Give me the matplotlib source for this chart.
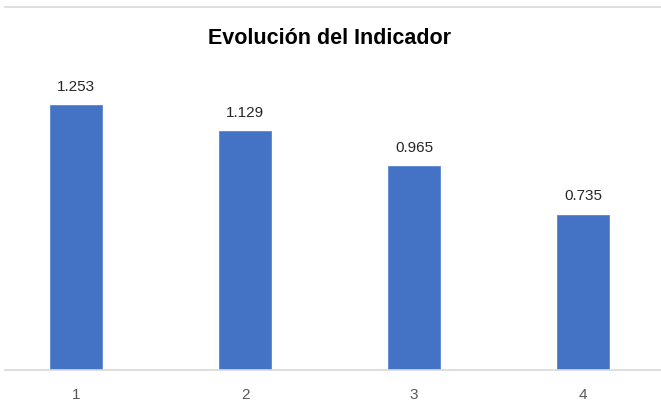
import matplotlib.pyplot as plt
from matplotlib.lines import Line2D

categories = ["1", "2", "3", "4"]
values = [1.253, 1.129, 0.965, 0.735]
value_labels = ["1.253", "1.129", "0.965", "0.735"]
title = "Evolución del Indicador"

plt.rcParams['font.family'] = ['Liberation Sans', 'DejaVu Sans']

fig = plt.figure(figsize=(6.61, 4.08), dpi=100)
W, H = 661, 408

# plot area in pixels: baseline at y=370, 1.4 units tall
ax = fig.add_axes([5 / W, 38 / H, 656 / W, 296 / H])

x = list(range(1, len(values) + 1))
ax.bar(x, values, width=0.31, color="#4472C4", edgecolor="#5B86D0", linewidth=0.6, zorder=2)

for xi, v, lab in zip(x, values, value_labels):
    ax.annotate(lab, (xi, v), xytext=(0, 8), textcoords="offset points",
                ha="center", va="bottom", fontsize=11, color="#262626")

ax.set_xlim(1 - 71 / 169, 1 + 585 / 169)
ax.set_ylim(0, 1.4)
ax.set_xticks(x)
ax.set_xticklabels(categories, fontsize=11, color="#595959")
ax.tick_params(axis="x", length=0, pad=13)
ax.set_yticks([])
for side in ["top", "right", "left"]:
    ax.spines[side].set_visible(False)
ax.spines["bottom"].set_color("#D9D9D9")
ax.spines["bottom"].set_linewidth(1.2)

fig.text(330 / W, 1 - 38 / H, title, ha="center", va="center",
         fontsize=15.5, fontweight="bold", color="#000000")

# chart frame line along the top
fig.add_artist(Line2D([5 / W, 1], [1 - 7 / H, 1 - 7 / H], transform=fig.transFigure,
                      color="#D9D9D9", linewidth=1.2))

fig.savefig("out.png", dpi=100)
